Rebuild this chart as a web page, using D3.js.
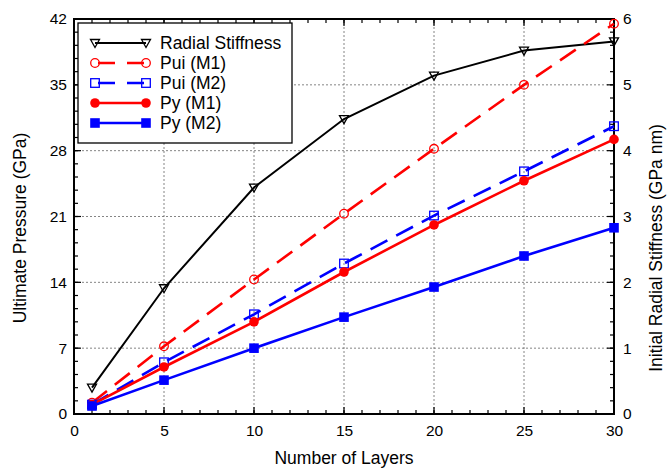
<!DOCTYPE html>
<html>
<head>
<meta charset="utf-8">
<script src="https://cdn.jsdelivr.net/npm/d3@7"></script>
<style>
  body { margin: 0; background: #fff; }
  svg text { font-family: "Liberation Sans", Arial, sans-serif; }
</style>
</head>
<body>
<svg width="667" height="470"></svg>
<script>
// layers on the x axis
const layers = [1, 5, 10, 15, 20, 25, 30];
// right axis (GPa nm)
const radialStiffness = [0.40, 1.91, 3.44, 4.48, 5.14, 5.52, 5.66];
// left axis (GPa)
const puiM1 = [1.2, 7.2, 14.3, 21.3, 28.2, 35.0, 41.5];
const puiM2 = [1.0, 5.5, 10.6, 16.0, 21.1, 25.8, 30.6];
const pyM1  = [1.0, 5.0, 9.8, 15.1, 20.1, 24.8, 29.2];
const pyM2  = [0.85, 3.6, 7.0, 10.3, 13.5, 16.8, 19.8];

const xTicks = [0, 5, 10, 15, 20, 25, 30];
const yTicks = [0, 7, 14, 21, 28, 35, 42];
const y2Ticks = [0, 1, 2, 3, 4, 5, 6];

const margin = {top: 19, right: 53, bottom: 56, left: 74};
const width = 667 - margin.left - margin.right;
const height = 470 - margin.top - margin.bottom;

const svg = d3.select('svg');
const g = svg.append('g').attr('transform', `translate(${margin.left},${margin.top})`);

const x = d3.scaleLinear().domain([0, 30]).range([0, width]);
const y = d3.scaleLinear().domain([0, 42]).range([height, 0]);
const y2 = d3.scaleLinear().domain([0, 6]).range([height, 0]);

// grid
g.append('g').selectAll('line')
  .data(xTicks.slice(1, -1))
  .enter().append('line')
  .attr('x1', d => x(d)).attr('x2', d => x(d))
  .attr('y1', 0).attr('y2', height)
  .attr('stroke', '#666').attr('stroke-width', 0.8).attr('stroke-dasharray', '2,2');
g.append('g').selectAll('line')
  .data(yTicks.slice(1, -1))
  .enter().append('line')
  .attr('y1', d => y(d)).attr('y2', d => y(d))
  .attr('x1', 0).attr('x2', width)
  .attr('stroke', '#666').attr('stroke-width', 0.8).attr('stroke-dasharray', '2,2');

// minor / major ticks (inward)
function tickLines(vals, len, side) {
  const t = g.append('g').attr('stroke', '#000').attr('stroke-width', 1.2);
  vals.forEach(v => {
    if (side === 'bottom') t.append('line').attr('x1', x(v)).attr('x2', x(v)).attr('y1', height).attr('y2', height - len);
    if (side === 'top') t.append('line').attr('x1', x(v)).attr('x2', x(v)).attr('y1', 0).attr('y2', len);
    if (side === 'left') t.append('line').attr('y1', y(v)).attr('y2', y(v)).attr('x1', 0).attr('x2', len);
    if (side === 'right') t.append('line').attr('y1', y2(v)).attr('y2', y2(v)).attr('x1', width).attr('x2', width - len);
  });
}
const xMinor = d3.range(0, 30.01, 1);
const yMinor = d3.range(0, 42.01, 1.4);
const y2Minor = d3.range(0, 6.01, 0.2);
tickLines(xMinor, 4, 'bottom');
tickLines(xMinor, 4, 'top');
tickLines(yMinor, 4, 'left');
tickLines(y2Minor, 4, 'right');
tickLines(xTicks, 7, 'bottom');
tickLines(xTicks, 7, 'top');
tickLines(yTicks, 7, 'left');
tickLines(y2Ticks, 7, 'right');

// tick labels through d3 axes (frame drawn separately)
const xAxis = g.append('g').attr('transform', `translate(0,${height})`)
  .call(d3.axisBottom(x).tickValues(xTicks).tickSize(0).tickPadding(8));
const yAxis = g.append('g')
  .call(d3.axisLeft(y).tickValues(yTicks).tickSize(0).tickPadding(7));
const y2Axis = g.append('g').attr('transform', `translate(${width},0)`)
  .call(d3.axisRight(y2).tickValues(y2Ticks).tickFormat(d3.format('d')).tickSize(0).tickPadding(9));
[xAxis, yAxis, y2Axis].forEach(a => {
  a.select('.domain').remove();
  a.selectAll('text').attr('font-size', 15.5).attr('fill', '#000')
    .style('font-family', '"Liberation Sans", Arial, sans-serif');
});
xAxis.selectAll('text').attr('dy', '0.9em');

// frame
g.append('rect').attr('width', width).attr('height', height)
  .attr('fill', 'none').attr('stroke', '#000').attr('stroke-width', 2);

// series
const series = [
  {name: 'Radial Stiffness', vals: radialStiffness, scale: y2, color: '#000', dash: null, marker: 'tri', width: 2},
  {name: 'Pui (M1)', vals: puiM1, scale: y, color: '#f00', dash: '19,10', marker: 'circleOpen', width: 2.6},
  {name: 'Pui (M2)', vals: puiM2, scale: y, color: '#00f', dash: '19,10', marker: 'squareOpen', width: 2.6},
  {name: 'Py (M1)', vals: pyM1, scale: y, color: '#f00', dash: null, marker: 'circle', width: 2.6},
  {name: 'Py (M2)', vals: pyM2, scale: y, color: '#00f', dash: null, marker: 'square', width: 2.6}
];

function drawMarker(sel, type, color, cx, cy) {
  if (type === 'tri') {
    sel.append('path')
      .attr('d', `M${cx - 4.5},${cy - 3.5} L${cx + 4.5},${cy - 3.5} L${cx},${cy + 4.5} Z`)
      .attr('fill', 'none').attr('stroke', color).attr('stroke-width', 1.3);
  } else if (type === 'circleOpen') {
    sel.append('circle').attr('cx', cx).attr('cy', cy).attr('r', 4.3)
      .attr('fill', 'none').attr('stroke', color).attr('stroke-width', 1.3);
  } else if (type === 'squareOpen') {
    sel.append('rect').attr('x', cx - 4.3).attr('y', cy - 4.3).attr('width', 8.6).attr('height', 8.6)
      .attr('fill', 'none').attr('stroke', color).attr('stroke-width', 1.3);
  } else if (type === 'circle') {
    sel.append('circle').attr('cx', cx).attr('cy', cy).attr('r', 4.8).attr('fill', color);
  } else if (type === 'square') {
    sel.append('rect').attr('x', cx - 4.8).attr('y', cy - 4.8).attr('width', 9.6).attr('height', 9.6).attr('fill', color);
  }
}

series.forEach(s => {
  const line = d3.line().x((d, i) => x(layers[i])).y(d => s.scale(d));
  g.append('path').datum(s.vals)
    .attr('d', line)
    .attr('fill', 'none')
    .attr('stroke', s.color)
    .attr('stroke-width', s.width)
    .attr('stroke-dasharray', s.dash);
  const m = g.append('g');
  s.vals.forEach((v, i) => drawMarker(m, s.marker, s.color, x(layers[i]), s.scale(v)));
});

// legend
const lg = svg.append('g');
lg.append('rect').attr('x', 78).attr('y', 23).attr('width', 214).attr('height', 120)
  .attr('fill', '#fff').attr('stroke', '#000').attr('stroke-width', 1.3);
series.forEach((s, i) => {
  const ly = 43 + i * 20;
  lg.append('line').attr('x1', 95).attr('x2', 146).attr('y1', ly).attr('y2', ly)
    .attr('stroke', s.color).attr('stroke-width', s.width)
    .attr('stroke-dasharray', s.dash ? '17,12' : null).attr('stroke-dashoffset', s.dash ? -3 : null);
  drawMarker(lg, s.marker, s.color, 95, ly);
  drawMarker(lg, s.marker, s.color, 146, ly);
  lg.append('text').attr('x', 160).attr('y', ly).attr('dy', '0.36em')
    .attr('font-size', 17.5).text(s.name);
});

// axis titles
svg.append('text').attr('x', margin.left + width / 2).attr('y', 464)
  .attr('text-anchor', 'middle').attr('font-size', 17.5).text('Number of Layers');
svg.append('text').attr('transform', `translate(26,228) rotate(-90)`)
  .attr('text-anchor', 'middle').attr('font-size', 17.5).text('Ultimate Pressure (GPa)');
svg.append('text').attr('transform', `translate(662,248) rotate(-90)`)
  .attr('text-anchor', 'middle').attr('font-size', 17.5).text('Initial Radial Stiffness (GPa nm)');
</script>
</body>
</html>
